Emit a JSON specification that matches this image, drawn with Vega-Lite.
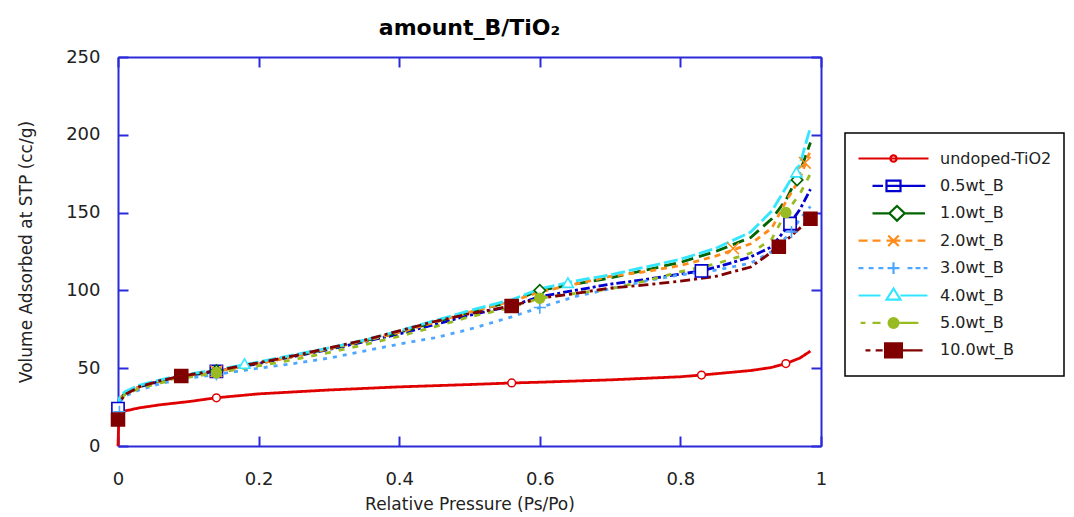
{
  "$schema": "https://vega.github.io/schema/vega-lite/v6.json",
  "width": 703,
  "height": 389,
  "autosize": "none",
  "padding": {"left": 118, "top": 57, "right": 253, "bottom": 71},
  "background": "white",
  "title": {"text": "amount_B/TiO₂", "font": "DejaVu Sans", "fontSize": 22, "fontWeight": "bold", "color": "black", "anchor": "middle", "offset": 8},
  "config": {
    "view": {"stroke": null},
    "axis": {
      "domainColor": "#2a2ad8", "domainWidth": 2,
      "tickColor": "#2a2ad8", "tickWidth": 2, "tickSize": -10,
      "grid": false, "labelFlush": false,
      "labelFont": "DejaVu Sans", "labelFontSize": 18, "labelColor": "#222222",
      "titleFont": "DejaVu Sans", "titleFontSize": 17, "titleFontWeight": "normal", "titleColor": "#222222"
    },
    "legend": {
      "orient": "none", "legendX": 727, "legendY": 76,
      "strokeColor": "black", "fillColor": "white", "strokeWidth": 1.5,
      "padding": 12, "symbolSize": 4900, "symbolStrokeWidth": 2.2,
      "labelFont": "DejaVu Sans", "labelFontSize": 16, "labelColor": "#222222",
      "clipHeight": 27, "rowPadding": 0.4, "labelOffset": 10
    }
  },
  "datasets": {
    "curves": [
      {"sample": "undoped-TiO2", "p": 0, "v": 0},
      {"sample": "undoped-TiO2", "p": 0.001, "v": 15},
      {"sample": "undoped-TiO2", "p": 0.003, "v": 20},
      {"sample": "undoped-TiO2", "p": 0.01, "v": 22.5},
      {"sample": "undoped-TiO2", "p": 0.03, "v": 24.5},
      {"sample": "undoped-TiO2", "p": 0.06, "v": 26.5},
      {"sample": "undoped-TiO2", "p": 0.1, "v": 28.5},
      {"sample": "undoped-TiO2", "p": 0.14, "v": 31},
      {"sample": "undoped-TiO2", "p": 0.2, "v": 33.5},
      {"sample": "undoped-TiO2", "p": 0.3, "v": 36},
      {"sample": "undoped-TiO2", "p": 0.4, "v": 38},
      {"sample": "undoped-TiO2", "p": 0.5, "v": 39.5},
      {"sample": "undoped-TiO2", "p": 0.56, "v": 40.5},
      {"sample": "undoped-TiO2", "p": 0.6, "v": 41},
      {"sample": "undoped-TiO2", "p": 0.7, "v": 42.5},
      {"sample": "undoped-TiO2", "p": 0.8, "v": 44.5},
      {"sample": "undoped-TiO2", "p": 0.83, "v": 45.6},
      {"sample": "undoped-TiO2", "p": 0.9, "v": 48.5},
      {"sample": "undoped-TiO2", "p": 0.93, "v": 50.5},
      {"sample": "undoped-TiO2", "p": 0.95, "v": 53},
      {"sample": "undoped-TiO2", "p": 0.97, "v": 56.5},
      {"sample": "undoped-TiO2", "p": 0.985, "v": 61},

      {"sample": "0.5wt_B", "p": 0, "v": 24},
      {"sample": "0.5wt_B", "p": 0.002, "v": 30},
      {"sample": "0.5wt_B", "p": 0.01, "v": 34},
      {"sample": "0.5wt_B", "p": 0.03, "v": 38},
      {"sample": "0.5wt_B", "p": 0.06, "v": 41.5},
      {"sample": "0.5wt_B", "p": 0.09, "v": 44.5},
      {"sample": "0.5wt_B", "p": 0.14, "v": 48},
      {"sample": "0.5wt_B", "p": 0.2, "v": 53},
      {"sample": "0.5wt_B", "p": 0.25, "v": 57.5},
      {"sample": "0.5wt_B", "p": 0.3, "v": 62},
      {"sample": "0.5wt_B", "p": 0.35, "v": 67},
      {"sample": "0.5wt_B", "p": 0.4, "v": 72},
      {"sample": "0.5wt_B", "p": 0.45, "v": 78},
      {"sample": "0.5wt_B", "p": 0.5, "v": 84},
      {"sample": "0.5wt_B", "p": 0.56, "v": 90},
      {"sample": "0.5wt_B", "p": 0.6, "v": 96},
      {"sample": "0.5wt_B", "p": 0.65, "v": 100},
      {"sample": "0.5wt_B", "p": 0.7, "v": 104},
      {"sample": "0.5wt_B", "p": 0.75, "v": 107},
      {"sample": "0.5wt_B", "p": 0.8, "v": 110.5},
      {"sample": "0.5wt_B", "p": 0.83, "v": 112.5},
      {"sample": "0.5wt_B", "p": 0.86, "v": 116},
      {"sample": "0.5wt_B", "p": 0.9, "v": 121.5},
      {"sample": "0.5wt_B", "p": 0.93, "v": 128},
      {"sample": "0.5wt_B", "p": 0.956, "v": 143},
      {"sample": "0.5wt_B", "p": 0.97, "v": 152},
      {"sample": "0.5wt_B", "p": 0.985, "v": 165},

      {"sample": "1.0wt_B", "p": 0, "v": 22},
      {"sample": "1.0wt_B", "p": 0.002, "v": 30},
      {"sample": "1.0wt_B", "p": 0.01, "v": 34},
      {"sample": "1.0wt_B", "p": 0.03, "v": 38.5},
      {"sample": "1.0wt_B", "p": 0.06, "v": 42},
      {"sample": "1.0wt_B", "p": 0.09, "v": 45},
      {"sample": "1.0wt_B", "p": 0.14, "v": 48.5},
      {"sample": "1.0wt_B", "p": 0.2, "v": 53.5},
      {"sample": "1.0wt_B", "p": 0.25, "v": 58},
      {"sample": "1.0wt_B", "p": 0.3, "v": 62.5},
      {"sample": "1.0wt_B", "p": 0.35, "v": 67.5},
      {"sample": "1.0wt_B", "p": 0.4, "v": 73},
      {"sample": "1.0wt_B", "p": 0.45, "v": 79.5},
      {"sample": "1.0wt_B", "p": 0.5, "v": 86},
      {"sample": "1.0wt_B", "p": 0.56, "v": 93},
      {"sample": "1.0wt_B", "p": 0.6, "v": 100},
      {"sample": "1.0wt_B", "p": 0.65, "v": 104},
      {"sample": "1.0wt_B", "p": 0.7, "v": 108},
      {"sample": "1.0wt_B", "p": 0.75, "v": 113},
      {"sample": "1.0wt_B", "p": 0.8, "v": 118},
      {"sample": "1.0wt_B", "p": 0.85, "v": 125},
      {"sample": "1.0wt_B", "p": 0.9, "v": 134},
      {"sample": "1.0wt_B", "p": 0.93, "v": 146},
      {"sample": "1.0wt_B", "p": 0.95, "v": 158},
      {"sample": "1.0wt_B", "p": 0.97, "v": 176},
      {"sample": "1.0wt_B", "p": 0.985, "v": 195},

      {"sample": "2.0wt_B", "p": 0, "v": 22},
      {"sample": "2.0wt_B", "p": 0.002, "v": 30},
      {"sample": "2.0wt_B", "p": 0.01, "v": 34},
      {"sample": "2.0wt_B", "p": 0.03, "v": 38},
      {"sample": "2.0wt_B", "p": 0.06, "v": 41.5},
      {"sample": "2.0wt_B", "p": 0.09, "v": 44.5},
      {"sample": "2.0wt_B", "p": 0.14, "v": 48},
      {"sample": "2.0wt_B", "p": 0.2, "v": 53},
      {"sample": "2.0wt_B", "p": 0.25, "v": 57.5},
      {"sample": "2.0wt_B", "p": 0.3, "v": 62.5},
      {"sample": "2.0wt_B", "p": 0.35, "v": 67.5},
      {"sample": "2.0wt_B", "p": 0.4, "v": 73},
      {"sample": "2.0wt_B", "p": 0.45, "v": 79.5},
      {"sample": "2.0wt_B", "p": 0.5, "v": 86},
      {"sample": "2.0wt_B", "p": 0.56, "v": 93},
      {"sample": "2.0wt_B", "p": 0.6, "v": 99},
      {"sample": "2.0wt_B", "p": 0.65, "v": 104},
      {"sample": "2.0wt_B", "p": 0.7, "v": 109},
      {"sample": "2.0wt_B", "p": 0.75, "v": 112},
      {"sample": "2.0wt_B", "p": 0.8, "v": 116},
      {"sample": "2.0wt_B", "p": 0.85, "v": 122},
      {"sample": "2.0wt_B", "p": 0.9, "v": 130},
      {"sample": "2.0wt_B", "p": 0.93, "v": 140},
      {"sample": "2.0wt_B", "p": 0.95, "v": 157},
      {"sample": "2.0wt_B", "p": 0.97, "v": 172},
      {"sample": "2.0wt_B", "p": 0.985, "v": 190},

      {"sample": "3.0wt_B", "p": 0, "v": 22},
      {"sample": "3.0wt_B", "p": 0.002, "v": 28},
      {"sample": "3.0wt_B", "p": 0.01, "v": 32},
      {"sample": "3.0wt_B", "p": 0.03, "v": 36},
      {"sample": "3.0wt_B", "p": 0.06, "v": 40},
      {"sample": "3.0wt_B", "p": 0.09, "v": 43},
      {"sample": "3.0wt_B", "p": 0.14, "v": 46},
      {"sample": "3.0wt_B", "p": 0.2, "v": 50},
      {"sample": "3.0wt_B", "p": 0.25, "v": 53},
      {"sample": "3.0wt_B", "p": 0.3, "v": 56.5},
      {"sample": "3.0wt_B", "p": 0.35, "v": 61},
      {"sample": "3.0wt_B", "p": 0.4, "v": 65.5},
      {"sample": "3.0wt_B", "p": 0.45, "v": 69.5},
      {"sample": "3.0wt_B", "p": 0.5, "v": 75},
      {"sample": "3.0wt_B", "p": 0.56, "v": 83},
      {"sample": "3.0wt_B", "p": 0.6, "v": 89},
      {"sample": "3.0wt_B", "p": 0.65, "v": 96},
      {"sample": "3.0wt_B", "p": 0.7, "v": 101},
      {"sample": "3.0wt_B", "p": 0.75, "v": 106},
      {"sample": "3.0wt_B", "p": 0.8, "v": 110},
      {"sample": "3.0wt_B", "p": 0.85, "v": 113},
      {"sample": "3.0wt_B", "p": 0.9, "v": 117.5},
      {"sample": "3.0wt_B", "p": 0.93, "v": 125},
      {"sample": "3.0wt_B", "p": 0.958, "v": 137.5},
      {"sample": "3.0wt_B", "p": 0.97, "v": 146},
      {"sample": "3.0wt_B", "p": 0.985, "v": 154},

      {"sample": "4.0wt_B", "p": 0, "v": 23},
      {"sample": "4.0wt_B", "p": 0.002, "v": 31},
      {"sample": "4.0wt_B", "p": 0.01, "v": 35},
      {"sample": "4.0wt_B", "p": 0.03, "v": 39},
      {"sample": "4.0wt_B", "p": 0.06, "v": 42.5},
      {"sample": "4.0wt_B", "p": 0.09, "v": 45.5},
      {"sample": "4.0wt_B", "p": 0.14, "v": 49},
      {"sample": "4.0wt_B", "p": 0.2, "v": 54},
      {"sample": "4.0wt_B", "p": 0.25, "v": 58.5},
      {"sample": "4.0wt_B", "p": 0.3, "v": 63},
      {"sample": "4.0wt_B", "p": 0.35, "v": 68},
      {"sample": "4.0wt_B", "p": 0.4, "v": 74},
      {"sample": "4.0wt_B", "p": 0.45, "v": 80.5},
      {"sample": "4.0wt_B", "p": 0.5, "v": 87},
      {"sample": "4.0wt_B", "p": 0.56, "v": 94},
      {"sample": "4.0wt_B", "p": 0.6, "v": 101},
      {"sample": "4.0wt_B", "p": 0.65, "v": 106},
      {"sample": "4.0wt_B", "p": 0.7, "v": 110},
      {"sample": "4.0wt_B", "p": 0.75, "v": 115},
      {"sample": "4.0wt_B", "p": 0.8, "v": 120},
      {"sample": "4.0wt_B", "p": 0.85, "v": 127},
      {"sample": "4.0wt_B", "p": 0.9, "v": 137.5},
      {"sample": "4.0wt_B", "p": 0.93, "v": 151},
      {"sample": "4.0wt_B", "p": 0.95, "v": 166},
      {"sample": "4.0wt_B", "p": 0.97, "v": 181},
      {"sample": "4.0wt_B", "p": 0.985, "v": 205},

      {"sample": "5.0wt_B", "p": 0, "v": 22},
      {"sample": "5.0wt_B", "p": 0.002, "v": 29},
      {"sample": "5.0wt_B", "p": 0.01, "v": 33},
      {"sample": "5.0wt_B", "p": 0.03, "v": 37},
      {"sample": "5.0wt_B", "p": 0.06, "v": 40.5},
      {"sample": "5.0wt_B", "p": 0.09, "v": 43.5},
      {"sample": "5.0wt_B", "p": 0.14, "v": 47},
      {"sample": "5.0wt_B", "p": 0.2, "v": 51.5},
      {"sample": "5.0wt_B", "p": 0.25, "v": 55.5},
      {"sample": "5.0wt_B", "p": 0.3, "v": 60},
      {"sample": "5.0wt_B", "p": 0.35, "v": 65},
      {"sample": "5.0wt_B", "p": 0.4, "v": 70.5},
      {"sample": "5.0wt_B", "p": 0.45, "v": 76.5},
      {"sample": "5.0wt_B", "p": 0.5, "v": 83},
      {"sample": "5.0wt_B", "p": 0.56, "v": 89},
      {"sample": "5.0wt_B", "p": 0.6, "v": 95},
      {"sample": "5.0wt_B", "p": 0.65, "v": 98},
      {"sample": "5.0wt_B", "p": 0.7, "v": 101},
      {"sample": "5.0wt_B", "p": 0.75, "v": 106},
      {"sample": "5.0wt_B", "p": 0.8, "v": 112},
      {"sample": "5.0wt_B", "p": 0.85, "v": 117},
      {"sample": "5.0wt_B", "p": 0.9, "v": 124},
      {"sample": "5.0wt_B", "p": 0.93, "v": 133},
      {"sample": "5.0wt_B", "p": 0.95, "v": 150},
      {"sample": "5.0wt_B", "p": 0.97, "v": 162},
      {"sample": "5.0wt_B", "p": 0.985, "v": 175},

      {"sample": "10.0wt_B", "p": 0, "v": 17},
      {"sample": "10.0wt_B", "p": 0.002, "v": 28},
      {"sample": "10.0wt_B", "p": 0.01, "v": 33},
      {"sample": "10.0wt_B", "p": 0.03, "v": 38},
      {"sample": "10.0wt_B", "p": 0.06, "v": 42},
      {"sample": "10.0wt_B", "p": 0.09, "v": 45},
      {"sample": "10.0wt_B", "p": 0.14, "v": 48.5},
      {"sample": "10.0wt_B", "p": 0.2, "v": 53.5},
      {"sample": "10.0wt_B", "p": 0.25, "v": 58},
      {"sample": "10.0wt_B", "p": 0.3, "v": 63},
      {"sample": "10.0wt_B", "p": 0.35, "v": 68},
      {"sample": "10.0wt_B", "p": 0.4, "v": 74},
      {"sample": "10.0wt_B", "p": 0.45, "v": 80},
      {"sample": "10.0wt_B", "p": 0.5, "v": 85},
      {"sample": "10.0wt_B", "p": 0.56, "v": 90},
      {"sample": "10.0wt_B", "p": 0.6, "v": 95},
      {"sample": "10.0wt_B", "p": 0.65, "v": 98},
      {"sample": "10.0wt_B", "p": 0.7, "v": 101.5},
      {"sample": "10.0wt_B", "p": 0.75, "v": 103.5},
      {"sample": "10.0wt_B", "p": 0.8, "v": 106},
      {"sample": "10.0wt_B", "p": 0.85, "v": 109},
      {"sample": "10.0wt_B", "p": 0.9, "v": 115},
      {"sample": "10.0wt_B", "p": 0.94, "v": 128},
      {"sample": "10.0wt_B", "p": 0.96, "v": 136},
      {"sample": "10.0wt_B", "p": 0.985, "v": 146}
    ],
    "markers": [
      {"series": "undoped-TiO2", "p": 0.003, "v": 20},
      {"series": "undoped-TiO2", "p": 0.14, "v": 31},
      {"series": "undoped-TiO2", "p": 0.56, "v": 40.5},
      {"series": "undoped-TiO2", "p": 0.83, "v": 45.6},
      {"series": "undoped-TiO2", "p": 0.95, "v": 53},
      {"series": "0.5wt_B", "p": 0, "v": 24},
      {"series": "0.5wt_B", "p": 0.14, "v": 48},
      {"series": "0.5wt_B", "p": 0.56, "v": 90},
      {"series": "0.5wt_B", "p": 0.83, "v": 112.5},
      {"series": "0.5wt_B", "p": 0.956, "v": 143},
      {"series": "1.0wt_B", "p": 0.14, "v": 48.5},
      {"series": "1.0wt_B", "p": 0.6, "v": 100},
      {"series": "1.0wt_B", "p": 0.966, "v": 171},
      {"series": "2.0wt_B", "p": 0.14, "v": 48},
      {"series": "2.0wt_B", "p": 0.875, "v": 127},
      {"series": "2.0wt_B", "p": 0.977, "v": 182},
      {"series": "3.0wt_B", "p": 0.002, "v": 22},
      {"series": "3.0wt_B", "p": 0.14, "v": 46},
      {"series": "3.0wt_B", "p": 0.6, "v": 89},
      {"series": "3.0wt_B", "p": 0.958, "v": 137.5},
      {"series": "4.0wt_B", "p": 0.18, "v": 53},
      {"series": "4.0wt_B", "p": 0.64, "v": 105},
      {"series": "4.0wt_B", "p": 0.965, "v": 176},
      {"series": "5.0wt_B", "p": 0.14, "v": 47},
      {"series": "5.0wt_B", "p": 0.6, "v": 95},
      {"series": "5.0wt_B", "p": 0.95, "v": 150},
      {"series": "10.0wt_B", "p": 0, "v": 17},
      {"series": "10.0wt_B", "p": 0.09, "v": 45},
      {"series": "10.0wt_B", "p": 0.56, "v": 90},
      {"series": "10.0wt_B", "p": 0.94, "v": 128},
      {"series": "10.0wt_B", "p": 0.985, "v": 146}
    ]
  },
  "layer": [
    {
      "data": {"name": "curves"},
      "mark": {"type": "line", "strokeWidth": 2.8},
      "encoding": {
        "x": {"field": "p", "type": "quantitative", "scale": {"domain": [0, 1], "nice": false},
              "axis": {"orient": "bottom", "title": "Relative Pressure (Ps/Po)", "values": [0, 0.2, 0.4, 0.6, 0.8, 1], "format": ".1~f", "labelPadding": 34, "titlePadding": 8}},
        "y": {"field": "v", "type": "quantitative", "scale": {"domain": [0, 250], "nice": false},
              "axis": {"orient": "left", "title": "Volume Adsorbed at STP (cc/g)", "values": [0, 50, 100, 150, 200, 250], "labelPadding": 28, "titlePadding": 30}},
        "color": {"field": "sample", "type": "nominal", "legend": null,
                  "scale": {"range": ["#0000d0", "#006400", "#800000", "#ff8c1a", "#4da6ff", "#33e6ff", "#99bb22", "#e00000"]}},
        "strokeDash": {"field": "sample", "type": "nominal", "legend": null,
                  "scale": {"range": [[9, 3, 3, 3], [12, 6], [3, 4, 10, 4], [6, 5], [4, 6], [14, 4], [6, 8], [1, 0]]}}
      }
    },
    {
      "data": {"name": "markers"},
      "transform": [{"filter": "datum.series === 'undoped-TiO2'"}],
      "mark": {"type": "point", "shape": "circle", "size": 60, "strokeWidth": 1.5, "stroke": "#e00000", "fill": "#ffffff", "opacity": 1},
      "encoding": {
        "x": {"field": "p", "type": "quantitative",
              "axis": {"orient": "top", "title": null, "labels": false, "values": [0, 0.2, 0.4, 0.6, 0.8, 1]}},
        "y": {"field": "v", "type": "quantitative",
              "axis": {"orient": "right", "title": null, "labels": false, "values": [0, 50, 100, 150, 200, 250]}}
      }
    },
    {
      "data": {"name": "markers"},
      "transform": [{"filter": "datum.series === '0.5wt_B'"}],
      "mark": {"type": "point", "shape": "square", "size": 150, "strokeWidth": 1.6, "stroke": "#0000d0", "fill": "#ffffff", "opacity": 1},
      "encoding": {"x": {"field": "p", "type": "quantitative", "axis": null}, "y": {"field": "v", "type": "quantitative", "axis": null}}
    },
    {
      "data": {"name": "markers"},
      "transform": [{"filter": "datum.series === '1.0wt_B'"}],
      "mark": {"type": "point", "shape": "diamond", "size": 130, "strokeWidth": 1.6, "stroke": "#006400", "fill": "#ffffff", "opacity": 1},
      "encoding": {"x": {"field": "p", "type": "quantitative", "axis": null}, "y": {"field": "v", "type": "quantitative", "axis": null}}
    },
    {
      "data": {"name": "markers"},
      "transform": [{"filter": "datum.series === '2.0wt_B'"}],
      "mark": {"type": "point", "shape": "M-0.9,-0.9L0.9,0.9M-0.9,0.9L0.9,-0.9", "size": 170, "strokeWidth": 1.6, "stroke": "#ff8c1a", "opacity": 1},
      "encoding": {"x": {"field": "p", "type": "quantitative", "axis": null}, "y": {"field": "v", "type": "quantitative", "axis": null}}
    },
    {
      "data": {"name": "markers"},
      "transform": [{"filter": "datum.series === '3.0wt_B'"}],
      "mark": {"type": "point", "shape": "M-1,0L1,0M0,-1L0,1", "size": 150, "strokeWidth": 1.6, "stroke": "#4da6ff", "opacity": 1},
      "encoding": {"x": {"field": "p", "type": "quantitative", "axis": null}, "y": {"field": "v", "type": "quantitative", "axis": null}}
    },
    {
      "data": {"name": "markers"},
      "transform": [{"filter": "datum.series === '4.0wt_B'"}],
      "mark": {"type": "point", "shape": "triangle-up", "size": 120, "strokeWidth": 1.6, "stroke": "#33e6ff", "fill": "#ffffff", "opacity": 1},
      "encoding": {"x": {"field": "p", "type": "quantitative", "axis": null}, "y": {"field": "v", "type": "quantitative", "axis": null}}
    },
    {
      "data": {"name": "markers"},
      "transform": [{"filter": "datum.series === '5.0wt_B'"}],
      "mark": {"type": "point", "shape": "circle", "size": 100, "strokeWidth": 1.5, "stroke": "#99bb22", "fill": "#99bb22", "opacity": 1},
      "encoding": {"x": {"field": "p", "type": "quantitative", "axis": null}, "y": {"field": "v", "type": "quantitative", "axis": null}}
    },
    {
      "data": {"name": "markers"},
      "transform": [{"filter": "datum.series === '10.0wt_B'"}],
      "mark": {"type": "point", "shape": "square", "size": 170, "strokeWidth": 1.5, "stroke": "#800000", "fill": "#800000", "opacity": 1},
      "encoding": {"x": {"field": "p", "type": "quantitative", "axis": null}, "y": {"field": "v", "type": "quantitative", "axis": null}}
    },
    {
      "data": {"name": "markers"},
      "transform": [{"filter": "false"}],
      "mark": {"type": "point", "opacity": 1},
      "encoding": {
        "x": {"field": "p", "type": "quantitative", "axis": null},
        "y": {"field": "v", "type": "quantitative", "axis": null},
        "shape": {"field": "series", "type": "nominal", "legend": {"title": null},
                  "scale": {"domain": ["undoped-TiO2", "0.5wt_B", "1.0wt_B", "2.0wt_B", "3.0wt_B", "4.0wt_B", "5.0wt_B", "10.0wt_B"],
                            "range": [
                              "M-1,0H1M-0.09,0A0.09,0.09,0,1,1,0.09,0A0.09,0.09,0,1,1,-0.09,0Z",
                              "M-0.6,0H-0.3M-0.2,0H0.91M-0.2,-0.15H0.2V0.15H-0.2Z",
                              "M-0.6,0H-0.12M0.32,0H0.9M-0.12,0L0.1,-0.21L0.32,0L0.1,0.21Z",
                              "M-1,0H-0.74M-0.6,0H-0.37M0.34,0H0.54M0.69,0H0.91M-0.15,-0.15L0.15,0.15M-0.15,0.15L0.15,-0.15M-0.2,0H0.2",
                              "M-1,0H-0.86M-0.71,0H-0.57M-0.43,0H-0.29M-0.17,0H0.17M0,-0.17V0.17M0.4,0H0.54M0.63,0H0.77M0.86,0H0.97",
                              "M-1,0H-0.37M0.2,0H0.97M-0.2,0.12L0,-0.2L0.2,0.12Z",
                              "M-0.94,0H-0.8M-0.6,0H-0.37M0.14,0H0.71M-0.14,0A0.14,0.14,0,1,1,0.14,0A0.14,0.14,0,1,1,-0.14,0Z",
                              "M-0.8,0H-0.66M-0.51,0H-0.31M0.24,0H0.83M-0.24,-0.2H0.24V0.2H-0.24Z"
                            ]}},
        "stroke": {"field": "series", "type": "nominal", "legend": {"title": null},
                  "scale": {"domain": ["undoped-TiO2", "0.5wt_B", "1.0wt_B", "2.0wt_B", "3.0wt_B", "4.0wt_B", "5.0wt_B", "10.0wt_B"],
                            "range": ["#e00000", "#0000d0", "#006400", "#ff8c1a", "#4da6ff", "#33e6ff", "#99bb22", "#800000"]}},
        "fill": {"field": "series", "type": "nominal", "legend": {"title": null},
                  "scale": {"domain": ["undoped-TiO2", "0.5wt_B", "1.0wt_B", "2.0wt_B", "3.0wt_B", "4.0wt_B", "5.0wt_B", "10.0wt_B"],
                            "range": ["#ffffff", "#ffffff", "#ffffff", "#ffffff", "#ffffff", "#ffffff", "#99bb22", "#800000"]}}
      }
    }
  ],
  "resolve": {"axis": {"x": "independent", "y": "independent"}}
}
